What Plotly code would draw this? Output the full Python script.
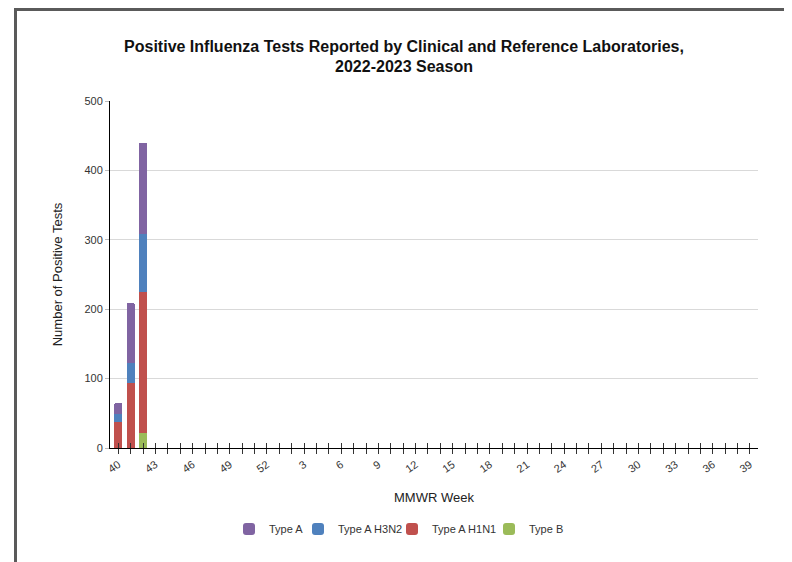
import plotly.graph_objects as go

weeks = [str(w) for w in list(range(40, 53)) + list(range(1, 40))]
type_b = [0, 0, 22] + [0] * 49
type_a_h1n1 = [38, 94, 203] + [0] * 49
type_a_h3n2 = [11, 28, 83] + [0] * 49
type_a = [16, 87, 132] + [0] * 49
tick_labels = [w if i % 3 == 0 else "" for i, w in enumerate(weeks)]

L, T, W, H = 102, 93, 648, 347
x_range = [-0.67, len(weeks) - 1 + 0.65]

# (name, values, color, legend id, legend marker screen x)
series = [
    ("Type B", type_b, "#9bbb59", "legend4", 509),
    ("Type A H1N1", type_a_h1n1, "#c0504d", "legend3", 412),
    ("Type A H3N2", type_a_h3n2, "#4f81bd", "legend2", 318),
    ("Type A", type_a, "#8064a2", "legend", 249),
]

fig = go.Figure()
for name, vals, color, lg, _ in series:
    fig.add_trace(go.Bar(x=weeks, y=vals, name=name, marker_color=color,
                         marker_line_width=0, legend=lg))
# invisible trace on overlaid axis for crossing ticks
fig.add_trace(go.Bar(x=weeks, y=[0] * len(weeks), xaxis="x2", showlegend=False,
                     hoverinfo="skip", marker_color="rgba(0,0,0,0)"))

font_family = "Liberation Sans, Arial, sans-serif"
fig.update_layout(
    width=792, height=562,
    barmode="stack", bargap=0.355, barcornerradius=2,
    paper_bgcolor="white", plot_bgcolor="white",
    margin=dict(l=L, r=792 - L - W, t=T, b=562 - T - H, autoexpand=False),
    font=dict(family=font_family, color="#222"),
    title=dict(
        text="<b>Positive Influenza Tests Reported by Clinical and Reference Laboratories,<br>2022-2023 Season</b>",
        x=0.5, xref="container", xanchor="center",
        y=1 - 43.5 / 562, yref="container", yanchor="middle",
        font=dict(size=16, color="#111"),
    ),
    xaxis=dict(
        type="category", categoryorder="array", categoryarray=weeks,
        range=x_range,
        tickmode="array", tickvals=weeks, ticktext=tick_labels,
        tickangle=-35, tickfont=dict(size=11, color="#333"),
        ticks="outside", ticklen=5, tickcolor="#333", tickwidth=1,
        showline=True, linecolor="#000", linewidth=1,
        showgrid=False,
        title=dict(text="MMWR Week", font=dict(size=13, color="#222"), standoff=19),
    ),
    xaxis2=dict(
        type="category", categoryorder="array", categoryarray=weeks,
        overlaying="x", matches="x", side="bottom",
        tickmode="array", tickvals=weeks, ticktext=[""] * len(weeks),
        ticks="inside", ticklen=5, tickcolor="#333", tickwidth=1,
        showticklabels=False, showgrid=False, showline=False,
    ),
    yaxis=dict(
        range=[0, 500], dtick=100,
        tickfont=dict(size=11, color="#333"),
        ticks="outside", ticklen=4, tickcolor="#bbb",
        showline=True, linecolor="#000", linewidth=1,
        gridcolor="#d9d9d9", gridwidth=1, zeroline=False,
        title=dict(text="Number of Positive Tests", font=dict(size=13, color="#222"), standoff=18),
    ),
    showlegend=True,
)

for name, vals, color, lg, mx in series:
    fig.update_layout({lg: dict(
        orientation="h",
        x=(mx - 8 - 20 - L) / W, xref="paper", xanchor="left",
        y=(T + H - 521) / H, yanchor="middle",
        font=dict(size=11, color="#333"),
        bgcolor="rgba(0,0,0,0)",
    )})

# outer frame
fig.add_shape(type="rect", xref="paper", yref="paper",
              x0=(7.5 - L) / W, x1=(782 - L) / W,
              y0=-0.6, y1=(T + H - 1.5) / H,
              line=dict(color="#5a5a5a", width=3), layer="above")

fig.write_html("out.html")
